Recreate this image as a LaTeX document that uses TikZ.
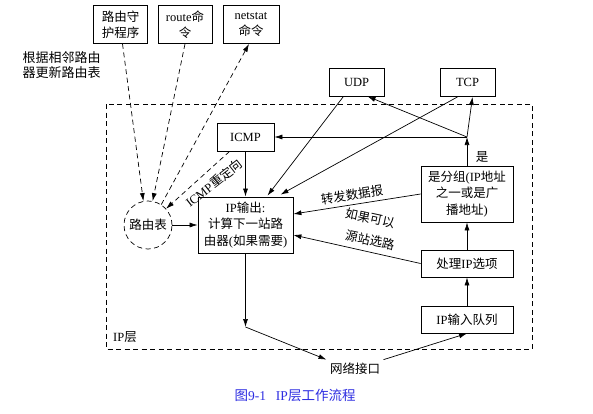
\documentclass[tikz,border=0pt]{standalone}
\usepackage{fontspec}
\setmainfont{Noto Sans CJK SC}
\newfontfamily\enfont{Liberation Serif}
\newcommand{\E}[1]{{\enfont #1}}
\usetikzlibrary{arrows.meta,calc}
\definecolor{capblue}{RGB}{45,45,225}
\begin{document}
\begin{tikzpicture}[x=1pt,y=-1pt,
  font=\fontsize{12.5}{16.5}\selectfont,
  box/.style={draw, line width=0.8pt, inner sep=1pt, align=center},
  arr/.style={-{Latex[length=8pt,width=5pt]}, line width=0.7pt},
  dsh/.style={dash pattern=on 5pt off 3.5pt},
  lbl/.style={inner sep=1pt},
]
\useasboundingbox (0,0) rectangle (593,413);
% IP layer frame
\draw[dsh, line width=0.7pt] (106,104) rectangle (532,349);
% boxes
\node[box, minimum width=54pt, minimum height=38pt] (daemon) at (120.5,24.5) {路由守\\护程序};
\node[box, minimum width=54pt, minimum height=38pt] (route) at (185,24.5) {\E{route}命\\令};
\node[box, minimum width=56pt, minimum height=38pt] (netstat) at (251,24.5) {\E{netstat}\\命令};
\node[box, minimum width=55pt, minimum height=28pt] (udp) at (356.5,82) {\E{UDP}};
\node[box, minimum width=55pt, minimum height=28pt] (tcp) at (467.5,82.5) {\E{TCP}};
\node[box, minimum width=57pt, minimum height=28pt] (icmp) at (245.5,137) {\E{ICMP}};
\node[box, minimum width=95pt, minimum height=56pt] (out) at (245.5,225) {\E{IP}输出\E{:}\\计算下一站路\\由器\E{(}如果需要\E{)}};
\node[draw, dsh, circle, minimum size=48pt, line width=0.7pt, inner sep=0pt] (rt) at (148,225) {路由表};
\node[box, minimum width=92pt, minimum height=56pt] (grp) at (467,194) {是分组\E{(IP}地址\\之一或是广\\播地址\E{)}};
\node[box, minimum width=92pt, minimum height=27pt] (opt) at (467,263.5) {处理\E{IP}选项};
\node[box, minimum width=92pt, minimum height=27pt] (inq) at (467,319.5) {\E{IP}输入队列};
\node (net) at (355,369) {网络接口};
\node[align=left, anchor=west, font=\fontsize{13}{15.5}\selectfont] (upd) at (19,65) {根据相邻路由\\器更新路由表};
\node (iplayer) at (125,337) {\E{IP}层};
\node (yes) at (482,157) {是};
\node[text=capblue, font=\fontsize{13.5}{16}\selectfont] (cap) at (295,395) {图\E{9-1}\hspace{10pt}\E{IP}层工作流程};
% coordinates
\coordinate (J) at (467,137);
\coordinate (B) at (245.5,327);
% arrows
\draw[arr] (grp.north) -- (J);
\draw[arr] (J) -- ($(tcp.south)+(5,0)$);
\draw[arr] (J) -- ($(udp.south)+(11,0)$);
\draw[arr] (J) -- (icmp.east);
\draw[arr] ($(udp.south)+(-13,0)$) -- ($(out.north)+(22,-1)$);
\draw[arr] ($(tcp.south)+(-10,0)$) -- ($(out.north)+(35,-2)$);
\draw[arr] (icmp.south) -- (out.north);
\draw[arr] (rt.east) -- (out.west);
\draw[arr] (grp.west) -- ($(out.east)+(0,-11)$);
\draw[arr] (opt.west) -- ($(out.east)+(0,10)$);
\draw[arr] (opt.north) -- (grp.south);
\draw[arr] (inq.north) -- (opt.south);
\draw[arr] (out.south) -- (B);
\draw[arr] (B) -- (net.north west);
\draw[arr] (net.north east) -- (inq.south);
% dashed arrows
\draw[arr, dsh] ($(daemon.south)+(2,0)$) -- (rt.101);
\draw[arr, dsh] (route.south) -- (rt.79);
\draw[arr, dsh] (rt.57) -- ($(netstat.south)+(-2,0)$);
\draw[arr, dsh] ($(icmp.south west)+(13,0)$) -- (rt.42);
% labels
\node[lbl, rotate=38] (lredir) at (214,183) {\E{ICMP}重定向};
\node[lbl, rotate=9] (lfwd) at (352,195) {转发数据报};
\node[lbl, rotate=-12] (lif) at (370,218) {如果可以};
\node[lbl, rotate=-12] (lsrc) at (370,240) {源站选路};
\end{tikzpicture}
\end{document}
